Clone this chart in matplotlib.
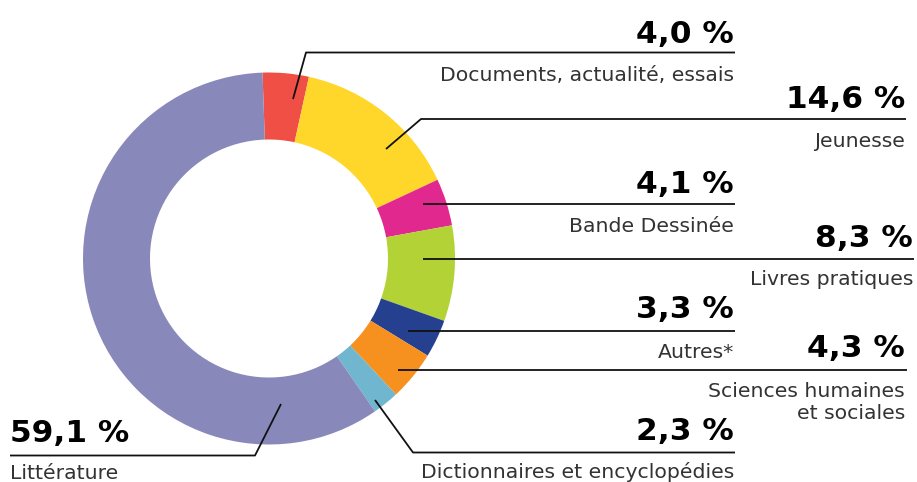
import matplotlib
matplotlib.use("Agg")
import matplotlib.pyplot as plt

categories = ["Documents, actualité, essais", "Jeunesse", "Bande Dessinée",
              "Livres pratiques", "Autres*", "Sciences humaines\net sociales",
              "Dictionnaires et encyclopédies", "Littérature"]
values = [4.0, 14.6, 4.1, 8.3, 3.3, 4.3, 2.3, 59.1]
value_labels = ["4,0 %", "14,6 %", "4,1 %", "8,3 %", "3,3 %", "4,3 %", "2,3 %", "59,1 %"]
colors = ["#EF4F45", "#FFD62A", "#E0288E", "#B2D236", "#25408F", "#F6901F", "#6FB6CE", "#8988BA"]

W, H = 917, 482
fig = plt.figure(figsize=(W / 100, H / 100), dpi=100)
ax = fig.add_axes([0, 0, 1, 1])

def Y(y):
    return H - y

cx, cy, R, r_in = 269, 258.5, 186, 119
ax.pie(values, colors=colors, startangle=92, counterclock=False, radius=R,
       center=(cx, Y(cy)), wedgeprops=dict(width=R - r_in, linewidth=0))
ax.set_xlim(0, W)
ax.set_ylim(0, H)
ax.set_aspect("auto")
ax.axis("off")

fam = "DejaVu Sans"

# layout: leader polyline points (pixel coords), text anchor x, value baseline, label baseline, alignment
layout = [
    ([(293, 99), (306, 52.5), (735, 52.5)], 734, 43, 81, "right"),
    ([(386, 149), (421, 119), (906, 119)], 905, 108, 147, "right"),
    ([(423, 203.5), (735, 203.5)], 734, 193, 232, "right"),
    ([(423, 259), (914, 259)], 913, 247, 285, "right"),
    ([(408, 330.5), (735, 330.5)], 734, 318, 358, "right"),
    ([(398, 370), (907, 370)], 905, 357, 397, "right"),
    ([(375, 400), (413, 452.5), (735, 452.5)], 734, 440, 478, "right"),
    ([(281, 404), (255, 455.5), (10, 455.5)], 10, 442, 479, "left"),
]

for i, (pts, tx, vy, ly, ha) in enumerate(layout):
    xs = [p[0] for p in pts]
    ys = [Y(p[1]) for p in pts]
    ax.plot(xs, ys, color="#111111", lw=1.3, solid_capstyle="butt")
    ax.text(tx, Y(vy), value_labels[i], ha=ha, va="baseline", fontsize=22.5,
            fontweight="bold", family=fam, color="#000000")
    lines = categories[i].split("\n")
    for k, line in enumerate(lines):
        ax.text(tx, Y(ly + k * 22), line, ha=ha, va="baseline", fontsize=14.7,
                fontweight="normal", family=fam, color="#333333")

fig.savefig("out.png", dpi=100)
